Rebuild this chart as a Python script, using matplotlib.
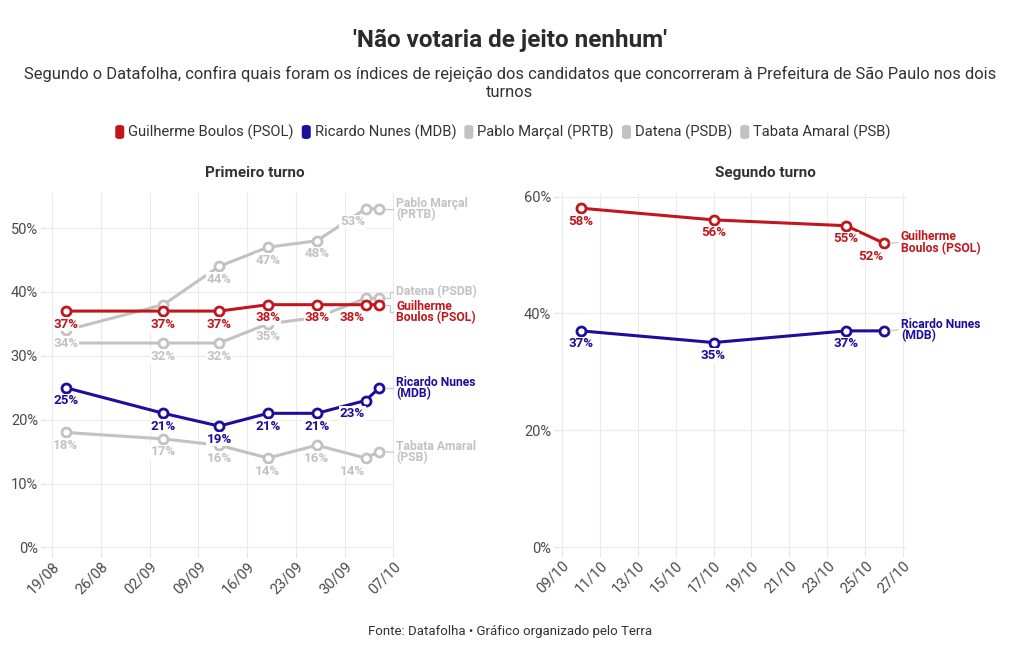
import matplotlib
matplotlib.use('Agg')
import matplotlib.pyplot as plt
import matplotlib.dates as mdates
from matplotlib.patches import FancyBboxPatch
from datetime import datetime, timedelta

plt.rcParams['font.family'] = ['Roboto', 'DejaVu Sans']

# ---------------- data ----------------
t1_dates = ['2024-08-21', '2024-09-04', '2024-09-12', '2024-09-19', '2024-09-26', '2024-10-03', '2024-10-05']
boulos_t1 = [37, 37, 37, 38, 38, 38, 38]
nunes_t1 = [25, 21, 19, 21, 21, 23, 25]
marcal_t1 = [34, 38, 44, 47, 48, 53, 53]
datena_t1 = [32, 32, 32, 35, 36, 39, 39]
tabata_t1 = [18, 17, 16, 14, 16, 14, 15]

t2_dates = ['2024-10-10', '2024-10-17', '2024-10-24', '2024-10-26']
boulos_t2 = [58, 56, 55, 52]
nunes_t2 = [37, 35, 37, 37]

t1_ticks = ['2024-08-19', '2024-08-26', '2024-09-02', '2024-09-09', '2024-09-16', '2024-09-23', '2024-09-30', '2024-10-07']
t2_ticks = ['2024-10-09', '2024-10-11', '2024-10-13', '2024-10-15', '2024-10-17', '2024-10-19', '2024-10-21', '2024-10-23', '2024-10-25', '2024-10-27']
t1_yticks = [0, 10, 20, 30, 40, 50]
t2_yticks = [0, 20, 40, 60]

legend_names = ['Guilherme Boulos (PSOL)', 'Ricardo Nunes (MDB)', 'Pablo Marçal (PRTB)', 'Datena (PSDB)', 'Tabata Amaral (PSB)']

RED = '#c0171d'
BLUE = '#1c0e9a'
GRAY = '#c2c2c2'
legend_colors = [RED, BLUE, GRAY, GRAY, GRAY]

def d(s):
    return datetime.strptime(s, '%Y-%m-%d')

W, H = 1020, 650
fig = plt.figure(figsize=(W / 100, H / 100), dpi=100)

def px_axes(x0, x1, ytop, ybot):
    return fig.add_axes([x0 / W, 1 - ybot / H, (x1 - x0) / W, (ybot - ytop) / H])

ax1 = px_axes(45, 394, 193, 552.6)
ax2 = px_axes(558, 907, 193, 551.7)

ax1.set_xlim(d('2024-08-18'), d('2024-10-07') + timedelta(hours=2))
ax1.set_ylim(-0.8, 55.48)
ax2.set_xlim(d('2024-10-09') - timedelta(hours=5), d('2024-10-27') + timedelta(hours=5))
ax2.set_ylim(-0.8, 60.6)

for ax, ticks, yt in ((ax1, t1_ticks, t1_yticks), (ax2, t2_ticks, t2_yticks)):
    for s in ax.spines.values():
        s.set_visible(False)
    ax.set_xticks([d(t) for t in ticks])
    ax.xaxis.set_major_formatter(mdates.DateFormatter('%d/%m'))
    ax.set_yticks(yt)
    ax.set_yticklabels([f'{v}%' for v in yt])
    ax.grid(True, color='#ebebeb', lw=0.8, zorder=0)
    ax.tick_params(axis='both', colors='#4a4a4a', labelsize=10.5, length=3, width=0.8)
    ax.tick_params(axis='y', length=3, pad=2, color='#dddddd')
    ax.tick_params(axis='x', color='#dddddd', pad=2)
    for lab in ax.get_xticklabels():
        lab.set_rotation(45)
        lab.set_ha('right')
        lab.set_rotation_mode('anchor')
    ax.set_axisbelow(True)

def series(ax, dates, vals, color, labeled, shift_idx, z):
    x = [d(s) for s in dates]
    ax.plot(x, vals, color=color, lw=2.2, marker='o', ms=6.5, mfc='white', mec=color, mew=2,
            zorder=z, clip_on=False, solid_capstyle='round')
    for i in labeled:
        dx = -13 if i == shift_idx else 0
        ax.annotate(f'{vals[i]}%', (x[i], vals[i]), xytext=(dx, -13), textcoords='offset pixels',
                    ha='center', va='center', fontsize=9.6, fontweight='bold', color=color, zorder=10,
                    bbox=dict(boxstyle='square,pad=0.05', fc='white', ec='none'))

# first round
series(ax1, t1_dates, tabata_t1, GRAY, [0, 1, 2, 3, 4, 5], 5, 3)
series(ax1, t1_dates, datena_t1, GRAY, [1, 2, 3], None, 3)
series(ax1, t1_dates, marcal_t1, GRAY, [0, 2, 3, 4, 5], 5, 3)
series(ax1, t1_dates, nunes_t1, BLUE, [0, 1, 2, 3, 4, 5], 5, 4)
series(ax1, t1_dates, boulos_t1, RED, [0, 1, 2, 3, 4, 5], 5, 5)
# second round
series(ax2, t2_dates, nunes_t2, BLUE, [0, 1, 2], None, 4)
series(ax2, t2_dates, boulos_t2, RED, [0, 1, 2, 3], 3, 5)

def end_label(ax, date_s, yval, ylab, text, color, xlab_date, elbow=False):
    x = d(date_s)
    trans = ax.transData
    p = trans.transform((mdates.date2num(x), yval))
    q = trans.transform((mdates.date2num(xlab_date), ylab))
    inv = fig.transFigure.inverted()
    x0 = p[0] + 6
    x1 = q[0] - 2
    xm = x1 - 3
    if elbow:
        pts = [(x0, p[1]), (xm, p[1]), (xm, q[1]), (x1, q[1])]
    else:
        pts = [(x0, p[1]), (x1, q[1])]
    fp = [inv.transform(pt) for pt in pts]
    fig.add_artist(plt.Line2D([a[0] for a in fp], [a[1] for a in fp], color='#c8c8c8', lw=0.9))
    ax.annotate(text, (mdates.date2num(xlab_date), ylab), xytext=(1, 0), textcoords='offset pixels',
                ha='left', va='center', fontsize=8.7, fontweight='bold', color=color,
                linespacing=0.82, annotation_clip=False)

lx1 = d('2024-10-07') + timedelta(hours=6)
end_label(ax1, t1_dates[-1], marcal_t1[-1], 53.0, 'Pablo Marçal\n(PRTB)', GRAY, lx1)
end_label(ax1, t1_dates[-1], datena_t1[-1], 40.0, 'Datena (PSDB)', GRAY, lx1, elbow=True)
end_label(ax1, t1_dates[-1], boulos_t1[-1], 36.9, 'Guilherme\nBoulos (PSOL)', RED, lx1, elbow=True)
end_label(ax1, t1_dates[-1], nunes_t1[-1], 25.0, 'Ricardo Nunes\n(MDB)', BLUE, lx1)
end_label(ax1, t1_dates[-1], tabata_t1[-1], 14.9, 'Tabata Amaral\n(PSB)', GRAY, lx1)

lx2 = d('2024-10-26') + timedelta(hours=20)
end_label(ax2, t2_dates[-1], boulos_t2[-1], 52.1, 'Guilherme\nBoulos (PSOL)', RED, lx2)
end_label(ax2, t2_dates[-1], nunes_t2[-1], 37.2, 'Ricardo Nunes\n(MDB)', BLUE, lx2)

# titles
fig.text(510 / W, 1 - 40 / H, "'Não votaria de jeito nenhum'", ha='center', va='center',
         fontsize=17.5, fontweight='bold', color='#2b2b2b')
fig.text(510 / W, 1 - 83 / H,
         'Segundo o Datafolha, confira quais foram os índices de rejeição dos candidatos que concorreram à Prefeitura de São Paulo nos dois\nturnos',
         ha='center', va='center', fontsize=11.9, color='#333333', linespacing=1.2)
fig.text(255 / W, 1 - 173 / H, 'Primeiro turno', ha='center', va='center', fontsize=11, fontweight='bold', color='#333333')
fig.text(765 / W, 1 - 173 / H, 'Segundo turno', ha='center', va='center', fontsize=11, fontweight='bold', color='#333333')
fig.text(510 / W, 1 - 632 / H, 'Fonte: Datafolha • Gráfico organizado pelo Terra', ha='center', va='center',
         fontsize=9.5, color='#333333')

# legend (manual)
fig.canvas.draw()
renderer = fig.canvas.get_renderer()
fs = 10.6
box_w, gap1, gap2 = 9, 4, 8
widths = []
for name in legend_names:
    t = fig.text(0, 0, name, fontsize=fs)
    widths.append(t.get_window_extent(renderer).width)
    t.remove()
total = sum(box_w + gap1 + w for w in widths) + gap2 * (len(widths) - 1)
x = 503 - total / 2
ly = 132
for name, col, w in zip(legend_names, legend_colors, widths):
    fig.add_artist(FancyBboxPatch(((x) / W, 1 - (ly + 7) / H), box_w / W, 14 / H,
                                  boxstyle='round,pad=0,rounding_size=0.004', transform=fig.transFigure,
                                  fc=col, ec='none'))
    fig.text((x + box_w + gap1) / W, 1 - ly / H, name, ha='left', va='center', fontsize=fs, color='#333333')
    x += box_w + gap1 + w + gap2

fig.savefig('out.png', dpi=100)
